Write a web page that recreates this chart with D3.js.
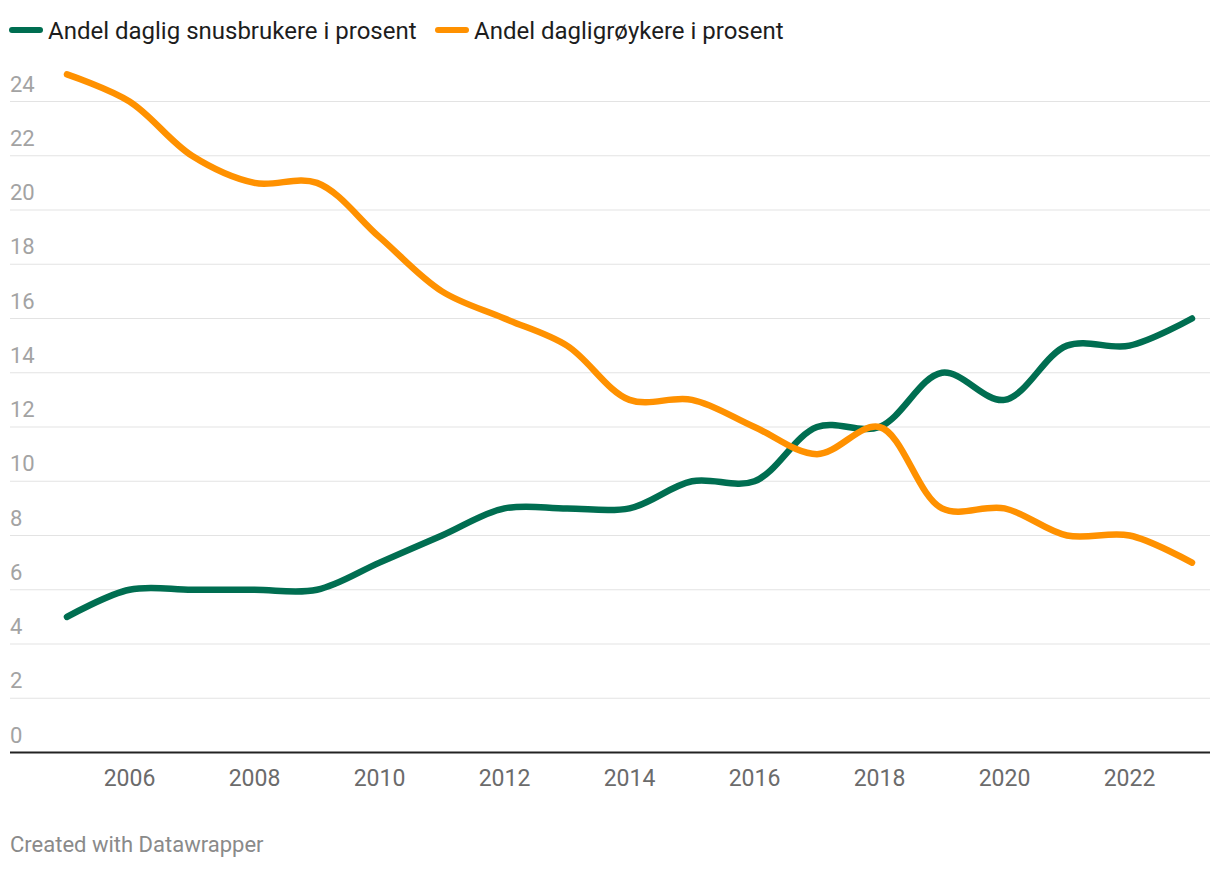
<!DOCTYPE html>
<html>
<head>
<meta charset="utf-8">
<script src="https://cdn.jsdelivr.net/npm/d3@7"></script>
<style>
  html, body { margin: 0; padding: 0; background: #fff; }
  svg { display: block; font-family: Roboto, sans-serif; }
</style>
</head>
<body>
<svg id="chart" width="1220" height="870"></svg>
<script>
const years = [2005, 2006, 2007, 2008, 2009, 2010, 2011, 2012, 2013, 2014, 2015, 2016, 2017, 2018, 2019, 2020, 2021, 2022, 2023];
const snus = [5, 6, 6, 6, 6, 7, 8, 9, 9, 9, 10, 10, 12, 12, 14, 13, 15, 15, 16];
const royk = [25, 24, 22, 21, 21, 19, 17, 16, 15, 13, 13, 12, 11, 12, 9, 9, 8, 8, 7];
const seriesNames = ["Andel daglig snusbrukere i prosent", "Andel dagligrøykere i prosent"];
const yTicks = [0, 2, 4, 6, 8, 10, 12, 14, 16, 18, 20, 22, 24];
const xTicks = [2006, 2008, 2010, 2012, 2014, 2016, 2018, 2020, 2022];
const footer = "Created with Datawrapper";

const colors = ["#006e51", "#ff9100"];
const svg = d3.select("#chart");

const x = d3.scaleLinear().domain([2005, 2023]).range([67, 1192]);
const y = d3.scaleLinear().domain([0, 24]).range([752.5, 101.5]);
const left = 10, right = 1210;

// gridlines
svg.append("g").selectAll("line").data(yTicks.filter(d => d > 0)).join("line")
  .attr("x1", left).attr("x2", right)
  .attr("y1", d => y(d)).attr("y2", d => y(d))
  .attr("stroke", "#e3e3e3").attr("stroke-width", 1.2);

// y labels
svg.append("g").selectAll("text").data(yTicks).join("text")
  .attr("x", left).attr("y", d => y(d) - 10)
  .attr("font-size", 22).attr("fill", "#a3a3a3")
  .text(d => d);

// baseline
svg.append("line").attr("x1", left).attr("x2", right)
  .attr("y1", y(0)).attr("y2", y(0))
  .attr("stroke", "#222").attr("stroke-width", 2);

// x labels
svg.append("g").selectAll("text").data(xTicks).join("text")
  .attr("x", d => x(d)).attr("y", 786)
  .attr("text-anchor", "middle")
  .attr("font-size", 23).attr("fill", "#6b6b6b")
  .text(d => d);

// lines
const line = d3.line().x(d => x(d[0])).y(d => y(d[1])).curve(d3.curveCatmullRom);
[snus, royk].forEach((vals, i) => {
  svg.append("path")
    .datum(years.map((yr, j) => [yr, vals[j]]))
    .attr("d", line)
    .attr("fill", "none")
    .attr("stroke", colors[i])
    .attr("stroke-width", 6.5)
    .attr("stroke-linecap", "round")
    .attr("stroke-linejoin", "round");
});

// legend
const legendX = [12, 438];
seriesNames.forEach((name, i) => {
  const g = svg.append("g").attr("transform", `translate(${legendX[i]},30)`);
  g.append("line").attr("x1", 0).attr("x2", 28).attr("y1", 0).attr("y2", 0)
    .attr("stroke", colors[i]).attr("stroke-width", 6).attr("stroke-linecap", "round");
  g.append("text").attr("x", 36).attr("y", 8.5)
    .attr("font-size", 24).attr("fill", "#1d1d1d").text(name);
});

// footer
svg.append("text").attr("x", 10).attr("y", 852)
  .attr("font-size", 22).attr("fill", "#8a8a8a").text(footer);
</script>
</body>
</html>
